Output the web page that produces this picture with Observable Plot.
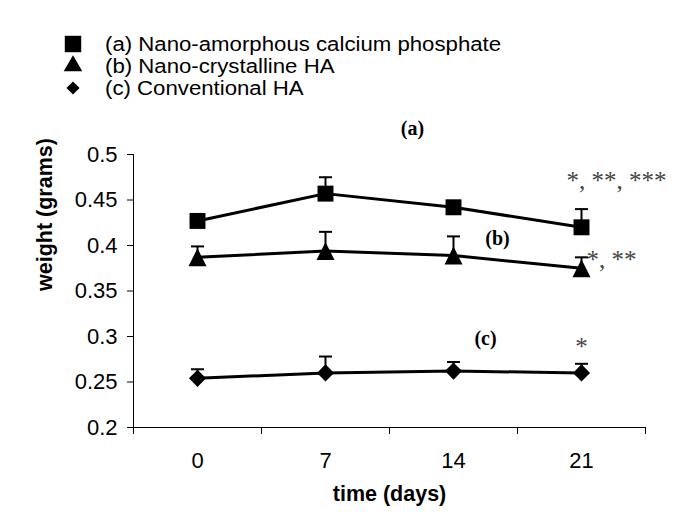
<!DOCTYPE html>
<html><head><meta charset="utf-8">
<script src="https://cdn.jsdelivr.net/npm/d3@7"></script>
<script src="https://cdn.jsdelivr.net/npm/@observablehq/plot@0.6"></script>
<style>
body{margin:0;background:#fff;}
#wrap{position:relative;width:700px;height:532px;overflow:hidden;}
#legend{position:absolute;left:0;top:0;width:700px;height:110px;font-family:"Liberation Sans",Arial,sans-serif;font-size:20px;color:#000;}
.icon{position:absolute;}
.ltext{position:absolute;left:105px;white-space:nowrap;line-height:22px;transform:scaleX(1.11);transform-origin:0 50%;}
</style></head>
<body><div id="wrap"><div id="chart"></div><div id="legend"></div></div>
<script>
// ---- data ----
const days = [0, 7, 14, 21];
const seriesKeys = ["a", "b", "c"];
const seriesNames = ["(a) Nano-amorphous calcium phosphate", "(b) Nano-crystalline HA", "(c) Conventional HA"];
const weightA = [0.427, 0.457, 0.442, 0.420];
const errA    = [0.005, 0.018, 0.005, 0.020];
const weightB = [0.387, 0.394, 0.389, 0.375];
const errB    = [0.012, 0.021, 0.021, 0.012];
const weightC = [0.254, 0.260, 0.262, 0.260];
const errC    = [0.010, 0.018, 0.010, 0.010];
const yTicks = [0.2, 0.25, 0.3, 0.35, 0.4, 0.45, 0.5];
const yLabel = "weight (grams)";
const xLabel = "time (days)";
const seriesTags = ["(a)", "(b)", "(c)"];
const sigLabels = ["*, **, ***", "*, **", "*"];

// ---- build table ----
const weights = [weightA, weightB, weightC];
const errs = [errA, errB, errC];
const rows = seriesKeys.flatMap((s, k) => days.map((d, i) => ({series: s, day: d, weight: weights[k][i], err: errs[k][i]})));

const step = days[1] - days[0];
const boundaries = [...days.map(d => d - step / 2), days[days.length - 1] + step / 2];

// ---- symbols ----
const capSym = {draw(ctx, size) { const r = Math.sqrt(size / Math.PI); ctx.moveTo(-r, 0); ctx.lineTo(r, 0); }};
const triSym = {draw(ctx, size) { const r = Math.sqrt(size / Math.PI); ctx.moveTo(0, -r); ctx.lineTo(r, r); ctx.lineTo(-r, r); ctx.closePath(); }};
const symbolStyle = {a: {symbol: "square", r: 9}, b: {symbol: triSym, r: 9}, c: {symbol: "diamond2", r: 7.7}};

const last = k => rows.filter(d => d.series === seriesKeys[k] && d.day === days[3]);
const mid = k => rows.filter(d => d.series === seriesKeys[k] && d.day === days[2]);

const serif = "Liberation Serif, Times New Roman, serif";

const chart = Plot.plot({
  width: 700, height: 532,
  marginLeft: 133, marginRight: 55, marginTop: 154, marginBottom: 105,
  style: {fontFamily: "Liberation Sans, Arial, sans-serif", fontSize: "22px", background: "#fff", color: "#000", overflow: "visible"},
  x: {type: "linear", domain: [boundaries[0], boundaries[boundaries.length - 1]]},
  y: {domain: [yTicks[0], yTicks[yTicks.length - 1]]},
  marks: [
    Plot.axisX({ticks: boundaries, tickSize: 7, tickFormat: () => "", label: null}),
    Plot.axisX({ticks: days, tickSize: 0, tickPadding: 25, fontSize: 22, label: null}),
    Plot.axisY({ticks: yTicks, tickSize: 6, tickPadding: 10, fontSize: 22, label: null, tickFormat: d => String(+d.toFixed(2))}),
    Plot.ruleY([yTicks[0]], {stroke: "#000"}),
    Plot.ruleX([boundaries[0]], {stroke: "#000"}),
    Plot.ruleX(rows, {x: "day", y1: "weight", y2: d => d.weight + d.err, stroke: "#000", strokeWidth: 2}),
    Plot.dot(rows, {x: "day", y: d => d.weight + d.err, symbol: capSym, r: 6.5, stroke: "#000", strokeWidth: 2, fill: "none"}),
    Plot.line(rows, {x: "day", y: "weight", z: "series", stroke: "#000", strokeWidth: 3}),
    ...seriesKeys.map(s => Plot.dot(rows.filter(d => d.series === s), {x: "day", y: "weight", symbol: symbolStyle[s].symbol, r: symbolStyle[s].r, fill: "#000", stroke: "none"})),
    // significance marks
    Plot.text(last(0), {x: "day", y: "weight", text: () => sigLabels[0], textAnchor: "start", dx: -15, dy: -46, fontFamily: serif, fontSize: 25, fill: "#444"}),
    Plot.text(last(1), {x: "day", y: "weight", text: () => sigLabels[1], textAnchor: "start", dx: 5, dy: -8, fontFamily: serif, fontSize: 25, fill: "#444"}),
    Plot.text(last(2), {x: "day", y: "weight", text: () => sigLabels[2], dx: 0, dy: -26, fontFamily: serif, fontSize: 25, fill: "#444"}),
    // series tags
    Plot.text(mid(0), {x: "day", y: "weight", text: () => seriesTags[0], dx: -41, dy: -79, fontFamily: serif, fontSize: 20, fontWeight: "bold"}),
    Plot.text(mid(1), {x: "day", y: "weight", text: () => seriesTags[1], dx: 44, dy: -17, fontFamily: serif, fontSize: 20, fontWeight: "bold"}),
    Plot.text(mid(2), {x: "day", y: "weight", text: () => seriesTags[2], dx: 32, dy: -32, fontFamily: serif, fontSize: 20, fontWeight: "bold"}),
    // axis titles
    Plot.text([yLabel], {frameAnchor: "left", rotate: -90, dx: -88, fontWeight: "bold", fontSize: 21.5}),
    Plot.text([xLabel], {frameAnchor: "bottom", dy: 73, fontWeight: "bold", fontSize: 21.5})
  ]
});
document.getElementById("chart").appendChild(chart);

// ---- legend ----
const legend = d3.select("#legend");
const legendSyms = [d3.symbolSquare, d3.symbolTriangle, d3.symbolDiamond2];
const legendSizes = [270, 150, 110];
seriesNames.forEach((name, i) => {
  const cy = 44 + 22 * i;
  const svg = legend.append("svg").attr("class", "icon").attr("width", 24).attr("height", 24)
    .style("left", "61px").style("top", (cy - 12) + "px");
  svg.append("path").attr("transform", "translate(12,12)")
    .attr("d", d3.symbol(legendSyms[i], legendSizes[i])()).attr("fill", "#000");
  legend.append("div").attr("class", "ltext").style("top", (cy - 11) + "px").text(name);
});
</script>
</body></html>
